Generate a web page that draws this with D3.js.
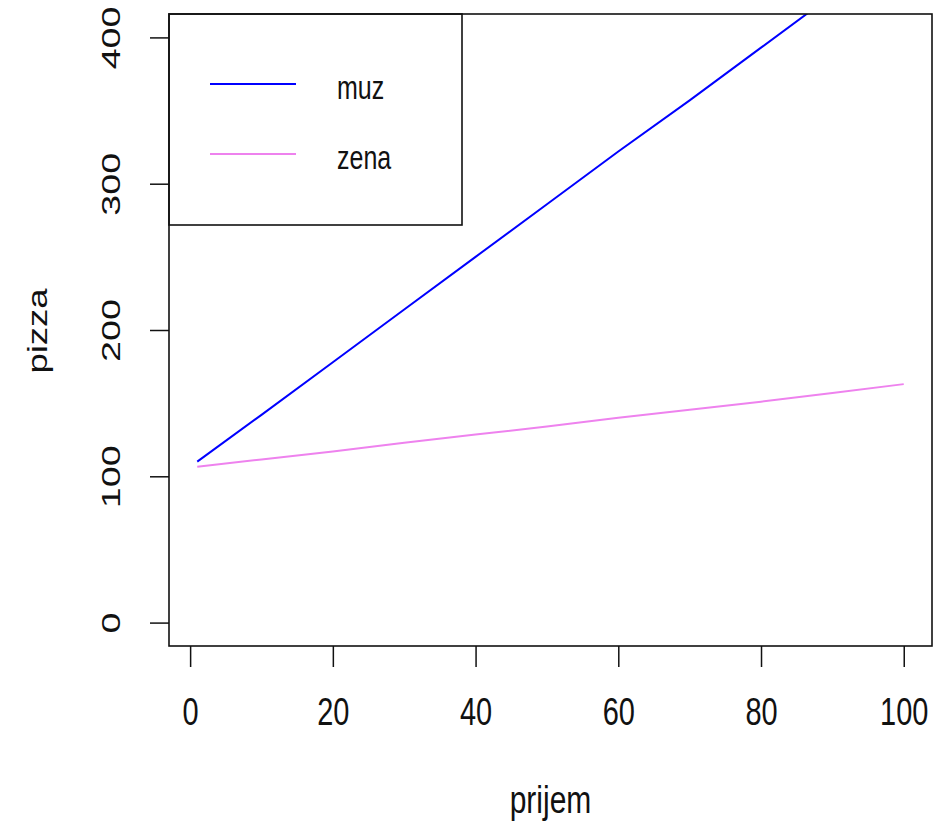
<!DOCTYPE html>
<html>
<head>
<meta charset="utf-8">
<script src="https://cdn.jsdelivr.net/npm/d3@7"></script>
<style>
  body { margin: 0; background: #fff; }
  svg { display: block; }
  text { font-family: "Liberation Sans", Arial, sans-serif; fill: #111; }
</style>
</head>
<body>
<svg width="946" height="821"></svg>
<script>
// values
let prijem = [1, 10, 20, 30, 40, 50, 60, 70, 80, 90, 100];
let muz = [110, 142, 178, 214, 250, 286, 322, 357, 393, 429, 465];
let zena = [106.5, 111.5, 117, 123, 128.5, 134, 140, 145.5, 151, 157, 163];
let xTicks = [0, 20, 40, 60, 80, 100];
let yTicks = [0, 100, 200, 300, 400];
let series = [
  { name: "muz", values: muz, color: "#0000ff" },
  { name: "zena", values: zena, color: "#ee82ee" }
];

let svg = d3.select("svg");
let box = { l: 169, t: 14, r: 932, b: 646 };

// R pads the data range by 4% on each side
let x = d3.scaleLinear().domain([1 - 3.96, 100 + 3.96]).range([box.l, box.r]);
let y = d3.scaleLinear().domain([-16, 416]).range([box.b, box.t]);

svg
  .append("clipPath")
  .attr("id", "plot-clip")
  .append("rect")
  .attr("x", box.l)
  .attr("y", box.t)
  .attr("width", box.r - box.l)
  .attr("height", box.b - box.t);

let line = d3
  .line()
  .x((d, i) => {
    return x(prijem[i]);
  })
  .y((d, i) => {
    return y(d);
  });

svg
  .append("g")
  .attr("clip-path", "url(#plot-clip)")
  .selectAll("path")
  .data(series)
  .enter()
  .append("path")
  .attr("d", (d) => line(d.values))
  .attr("fill", "none")
  .attr("stroke", (d) => d.color)
  .attr("stroke-width", 2);

// x axis
let gx = svg
  .append("g")
  .attr("transform", `translate(0,${box.b})`)
  .call(d3.axisBottom(x).tickValues(xTicks).tickSize(21).tickFormat(d3.format("d")));
gx.select(".domain").remove();
gx.selectAll(".tick line").attr("stroke", "#111").attr("stroke-width", 1.5);
gx.selectAll(".tick text")
  .attr("y", null)
  .attr("dy", null)
  .attr("fill", "#111")
  .attr("font-size", 29)
  .attr("font-family", "Liberation Sans, Arial, sans-serif")
  .attr("transform", "translate(0,79) scale(1,1.32)");

// y axis
let gy = svg
  .append("g")
  .attr("transform", `translate(${box.l},0)`)
  .call(d3.axisLeft(y).tickValues(yTicks).tickSize(19).tickFormat(d3.format("d")));
gy.select(".domain").remove();
gy.selectAll(".tick line").attr("stroke", "#111").attr("stroke-width", 1.5);
gy.selectAll(".tick text")
  .attr("x", null)
  .attr("dy", null)
  .attr("fill", "#111")
  .attr("text-anchor", "middle")
  .attr("font-size", 26)
  .attr("font-family", "Liberation Sans, Arial, sans-serif")
  .attr("transform", "translate(-49,0) rotate(-90) scale(1.45,1)");

// plot box
svg
  .append("rect")
  .attr("x", box.l)
  .attr("y", box.t)
  .attr("width", box.r - box.l)
  .attr("height", box.b - box.t)
  .attr("fill", "none")
  .attr("stroke", "#111")
  .attr("stroke-width", 1.6);

// axis titles
svg
  .append("text")
  .text("prijem")
  .attr("text-anchor", "middle")
  .attr("font-size", 30)
  .attr("transform", `translate(${(box.l + box.r) / 2},813) scale(1,1.3)`);

svg
  .append("text")
  .text("pizza")
  .attr("text-anchor", "middle")
  .attr("font-size", 27)
  .attr("transform", `translate(47,${(box.t + box.b) / 2 + 1}) rotate(-90) scale(1.35,1)`);

// legend
let legend = svg.append("g");
legend
  .append("rect")
  .attr("x", box.l)
  .attr("y", box.t)
  .attr("width", 462 - box.l)
  .attr("height", 225 - box.t)
  .attr("fill", "none")
  .attr("stroke", "#111")
  .attr("stroke-width", 1.6);

let items = legend
  .selectAll("g.item")
  .data(series)
  .enter()
  .append("g")
  .attr("class", "item")
  .attr("transform", (d, i) => `translate(0,${84 + i * 70})`);

items
  .append("line")
  .attr("x1", 210)
  .attr("x2", 296)
  .attr("y1", 0)
  .attr("y2", 0)
  .attr("stroke", (d) => d.color)
  .attr("stroke-width", 2);

items
  .append("text")
  .text((d) => d.name)
  .attr("font-size", 25)
  .attr("transform", "translate(337,15) scale(1,1.33)");
</script>
</body>
</html>
